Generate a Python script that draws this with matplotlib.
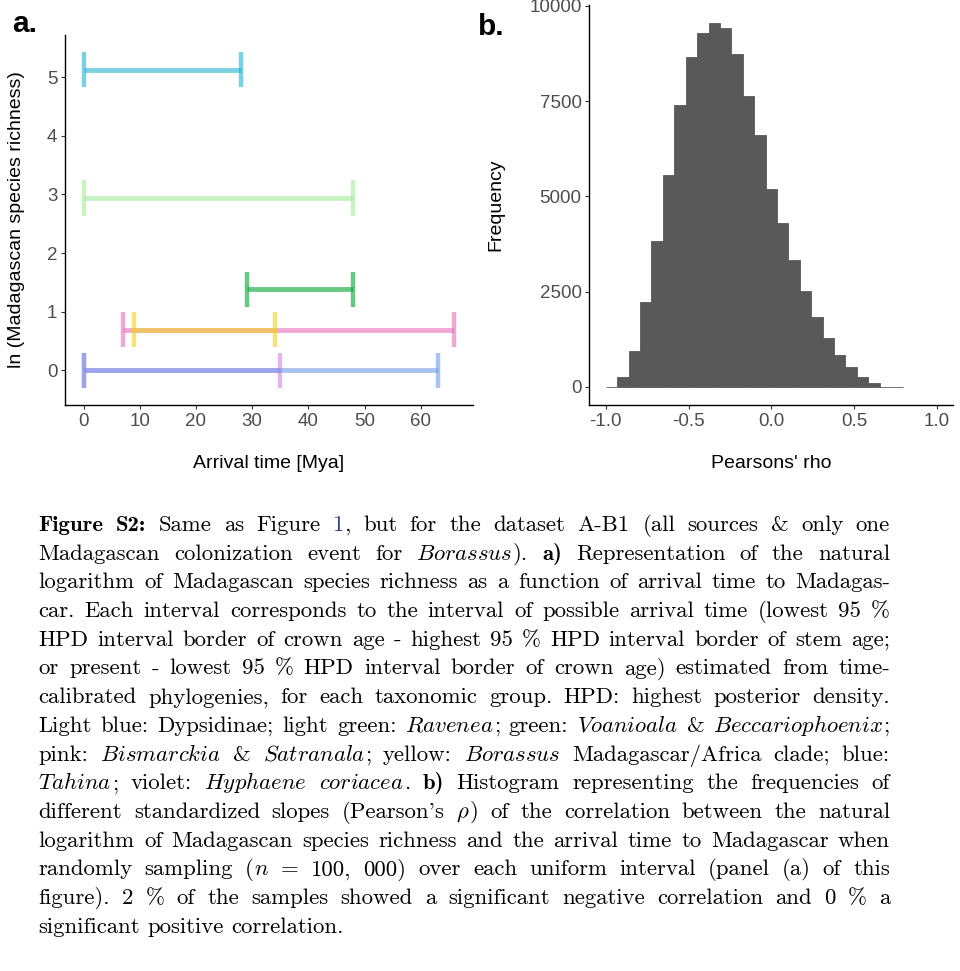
import re

import matplotlib
matplotlib.use("Agg")
import matplotlib.pyplot as plt
import numpy as np

plt.rcParams["font.family"] = ["Liberation Sans", "DejaVu Sans"]
plt.rcParams["mathtext.fontset"] = "cm"

# ---- panel a: arrival-time intervals (drawn in this order) ----
groups = ["Dypsidinae", "Ravenea", "Voanioala & Beccariophoenix",
          "Bismarckia & Satranala", "Borassus", "Hyphaene coriacea", "Tahina"]
ln_richness = [5.13, 2.94, 1.386, 0.693, 0.693, 0.0, 0.0]
arrival_low = [0, 0, 29, 7, 9, 0, 0]
arrival_high = [28, 48, 48, 66, 34, 35, 63]
group_colors = ["#1EB4D2", "#A3EB9B", "#05A332", "#E671BC",
                "#F2D21E", "#CD82E6", "#719BE6"]

# ---- panel b: histogram of Pearson's rho (n = 100,000) ----
rho_counts = [0, 254, 946, 2224, 3835, 5569, 7399, 8660, 9282, 9553, 9413,
              8739, 7627, 6611, 5193, 4300, 3327, 2513, 1830, 1278, 832, 517,
              254, 96, 0, 0]
rho_edges = np.linspace(-1, 1, 30)[:len(rho_counts) + 1]

CAPTION = [
    "**Figure** **S2:** Same as Figure [1], but for the dataset A-B1 (all sources & only one",
    "Madagascan colonization event for *Borassus*). **a)** Representation of the natural",
    "logarithm of Madagascan species richness as a function of arrival time to Madagas-",
    "car. Each interval corresponds to the interval of possible arrival time (lowest 95 %",
    "HPD interval border of crown age - highest 95 % HPD interval border of stem age;",
    "or present - lowest 95 % HPD interval border of crown age) estimated from time-",
    "calibrated phylogenies, for each taxonomic group. HPD: highest posterior density.",
    "Light blue: Dypsidinae; light green: *Ravenea*; green: *Voanioala* & *Beccariophoenix*;",
    "pink: *Bismarckia* & *Satranala*; yellow: *Borassus* Madagascar/Africa clade; blue:",
    "*Tahina*; violet: *Hyphaene* *coriacea*. **b)** Histogram representing the frequencies of",
    "different standardized slopes (Pearson's $\\rho$) of the correlation between the natural",
    "logarithm of Madagascan species richness and the arrival time to Madagascar when",
    "randomly sampling ($n$ = 100, 000) over each uniform interval (panel (a) of this",
    "figure). 2 % of the samples showed a significant negative correlation and 0 % a",
    "significant positive correlation.",
]

W, H = 960, 971
TICK_C = "#4D4D4D"

fig = plt.figure(figsize=(W / 100, H / 100), dpi=100)


def style_axes(ax):
    for s in ("top", "right"):
        ax.spines[s].set_visible(False)
    for s in ("left", "bottom"):
        ax.spines[s].set_linewidth(1.0)
    ax.tick_params(length=3, width=0.8, color="#333333", labelcolor=TICK_C,
                   labelsize=13.5, pad=2.5)


# (a) intervals
ax = fig.add_axes([65 / W, 1 - 405 / H, 408 / W, 370 / H])
for y, lo, hi, c in zip(ln_richness, arrival_low, arrival_high, group_colors):
    ax.hlines(y, lo, hi, color=c, alpha=0.6, lw=3.5, capstyle="butt")
    ax.vlines([lo, hi], y - 0.3, y + 0.3, color=c, alpha=0.6, lw=3.2, capstyle="butt")
ax.set_xlim(-3.3, 69.3)
ax.set_ylim(-0.59, 5.72)
ax.set_xticks(range(0, 61, 10))
ax.set_yticks(range(0, 6))
style_axes(ax)
ax.set_xlabel("Arrival time [Mya]", fontsize=14)
ax.set_ylabel("ln (Madagascan species richness)", fontsize=14)
ax.xaxis.set_label_coords(0.5, -0.135)
ax.yaxis.set_label_coords(-0.098, 0.5)

# (b) histogram
ax = fig.add_axes([589.3 / W, 1 - 405 / H, 364 / W, 400.3 / H])
ax.bar(rho_edges[:-1], rho_counts, width=np.diff(rho_edges), align="edge",
       color="#595959", edgecolor="#595959", linewidth=0.6)
ax.set_xlim(-1.1, 1.1)
ax.set_ylim(-480, 10031)
ax.set_xticks([-1.0, -0.5, 0.0, 0.5, 1.0])
ax.set_xticklabels(["-1.0", "-0.5", "0.0", "0.5", "1.0"])
ax.set_yticks([0, 2500, 5000, 7500, 10000])
style_axes(ax)
ax.set_xlabel("Pearsons' rho", fontsize=14)
ax.set_ylabel("Frequency", fontsize=14)
ax.xaxis.set_label_coords(0.5, -0.125)
ax.yaxis.set_label_coords(-0.232, 0.5)

fig.text(12 / W, 1 - 32 / H, "a.", fontsize=21.5, fontweight="bold", va="baseline")
fig.text(478 / W, 1 - 35 / H, "b.", fontsize=21.5, fontweight="bold", va="baseline")

# ---- caption, justified like the LaTeX source ----
FS = 16.4
STYLES = {
    "roman": dict(family="cmr10"),
    "bold": dict(family="cmb10"),
    "link": dict(family="cmr10", color="#2B3E8C"),
    "math": dict(family="cmr10"),
}
SEG = re.compile(r"\*\*(.+?)\*\*|\*(.+?)\*|\[(.+?)\]|(\$.+?\$)|([^*\[$]+)")


def parse(word):
    segs = []
    for m in SEG.finditer(word):
        b, it, link, math, rom = m.groups()
        if b:
            segs.append((b, "bold"))
        elif it:
            segs.append(("$" + it + "$", "math"))
        elif link:
            segs.append((link, "link"))
        elif math:
            segs.append((math, "math"))
        else:
            segs.append((rom, "roman"))
    return segs


renderer = fig.canvas.get_renderer()
X0, X1 = 38.5, 890.0
BASE0, LEAD = 531.0, 28.7
space_w = FS * 100 / 72 * 0.333


def word_widths(words):
    out = []
    for parts in words:
        out.append([t.get_window_extent(renderer).width for t in parts])
    return out


for li, line in enumerate(CAPTION):
    ybase = 1 - (BASE0 + li * LEAD) / H
    words = []
    for w in line.split(" "):
        words.append([fig.text(0, ybase, text, va="baseline", ha="left",
                               fontsize=FS, **STYLES[st]) for text, st in parse(w)])
    widths = word_widths(words)
    total = sum(sum(p) for p in widths)
    ngap = len(words) - 1
    last = li == len(CAPTION) - 1
    if not last and total + ngap * 0.7 * space_w > X1 - X0:
        shrink = (X1 - X0 - ngap * 0.7 * space_w) / total
        for parts in words:
            for t in parts:
                t.set_fontsize(FS * shrink)
        widths = word_widths(words)
        total = sum(sum(p) for p in widths)
    gap = space_w if last else (X1 - X0 - total) / ngap
    x = X0
    for parts, pws in zip(words, widths):
        for t, pw in zip(parts, pws):
            t.set_x(x / W)
            x += pw
        x += gap

fig.savefig("out.png", dpi=100)
